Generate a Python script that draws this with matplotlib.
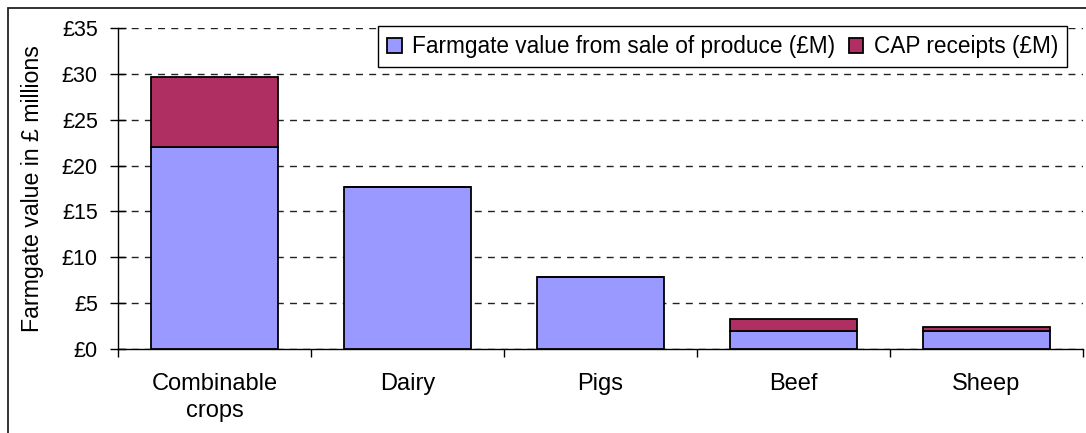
#---Farmgate value and CAP receipts by sector, stacked bars
import matplotlib
matplotlib.use('Agg')
import matplotlib.pyplot as plt
from matplotlib.patches import Rectangle
import numpy as np

#---Data (£ millions)
categories = ['Combinable\ncrops', 'Dairy', 'Pigs', 'Beef', 'Sheep']
farmgate = [22.0, 17.7, 7.9, 2.0, 2.0]
cap = [7.7, 0.0, 0.0, 1.3, 0.45]
yticks = [0, 5, 10, 15, 20, 25, 30, 35]
ytick_labels = ['£' + str(v) for v in yticks]

plt.rcParams['font.family'] = ['Liberation Sans', 'DejaVu Sans']

fig = plt.figure(figsize=(10.86, 4.33), dpi=100)
ax = fig.add_axes([118/1086, 1-349/433, (1083-118)/1086, (349-28)/433])

x = np.arange(len(categories))
ax.bar(x, farmgate, width=0.66, color='#9999FF', edgecolor='black', linewidth=1.3,
       label='Farmgate value from sale of produce (£M)', zorder=3)
ax.bar(x, cap, width=0.66, bottom=farmgate, color='#B02F62', edgecolor='black', linewidth=1.3,
       label='CAP receipts (£M)', zorder=3)

ax.set_xlim(-0.5, len(categories)-0.5)
ax.set_ylim(0, 35)
ax.set_yticks(yticks)
ax.set_yticklabels(ytick_labels, fontsize=15.5)
ax.set_xticks(x)
ax.set_xticklabels(categories, fontsize=17, linespacing=1.3)
ax.tick_params(axis='x', length=0, pad=17)
#---category separators as minor ticks
ax.set_xticks(np.arange(-0.5, len(categories)), minor=True)
ax.tick_params(axis='x', which='minor', length=5.5, width=1, direction='out')
ax.tick_params(axis='y', length=11, width=1, direction='inout', pad=9)

ax.yaxis.grid(True, linestyle=(0, (5, 4.5)), color='#222222', linewidth=1, zorder=0)
for s in ['top', 'right']:
    ax.spines[s].set_visible(False)
ax.spines['left'].set_linewidth(1)
ax.spines['bottom'].set_linewidth(1)

ax.set_ylabel('Farmgate value in £ millions', fontsize=16.7)
ax.yaxis.set_label_coords(-0.077, 0.5)

leg = ax.legend(ncol=2, loc='upper right', bbox_to_anchor=(1067/1086, 1-26/433),
                bbox_transform=fig.transFigure, fontsize=16.3, frameon=True, fancybox=False,
                framealpha=1, edgecolor='black', handlelength=0.65, handleheight=0.65,
                handletextpad=0.45, columnspacing=0.6, borderpad=0.4, borderaxespad=0)
leg.get_frame().set_linewidth(1)
leg.set_zorder(5)

#---outer chart border (only left and top show in the crop)
fig.patches.append(Rectangle((7.5/1086, -0.1), 1.2, 1-7.5/433+0.1, transform=fig.transFigure,
                             fill=False, edgecolor='#222222', linewidth=1.3))

plt.savefig('out.png', dpi=100)
